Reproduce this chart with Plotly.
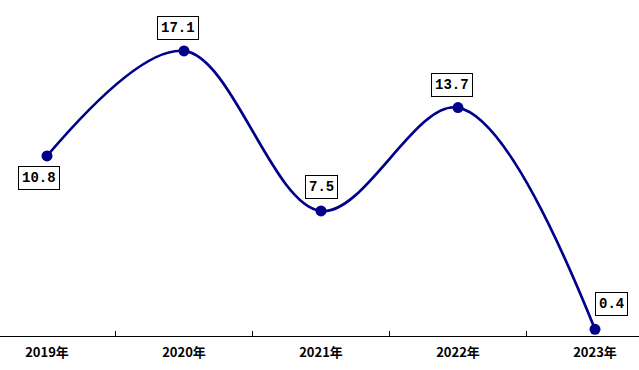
import plotly.graph_objects as go

years = ["2019年", "2020年", "2021年", "2022年", "2023年"]
values = [10.8, 17.1, 7.5, 13.7, 0.4]
label_text = ["10.8", "17.1", "7.5", "13.7", "0.4"]
label_dx = [-8, -6, 0, -6, 16]
label_dy = [-22, 23, 24, 23, 25]

fig = go.Figure()
fig.add_trace(go.Scatter(
    x=years, y=values, mode="lines+markers",
    line=dict(color="#00008B", width=2.7, shape="spline", smoothing=1.0),
    marker=dict(color="#00008B", size=11),
    hoverinfo="skip",
))

for x, y, t, dx, dy in zip(years, values, label_text, label_dx, label_dy):
    fig.add_annotation(
        x=x, y=y, xref="x", yref="y", text=t, showarrow=False,
        xshift=dx, yshift=dy,
        font=dict(family="Liberation Mono, DejaVu Sans Mono, monospace", size=14,
                  color="black", weight="bold"),
        bordercolor="black", borderwidth=1, borderpad=3, bgcolor="white",
    )

fig.update_layout(
    width=639, height=370,
    margin=dict(l=0, r=0, t=0, b=34),
    paper_bgcolor="white", plot_bgcolor="white",
    showlegend=False,
    xaxis=dict(
        type="category", range=[-47/137, 4 + 44/137], automargin=False,
        showline=True, linecolor="black", linewidth=1,
        ticks="inside", tickson="boundaries", ticklen=5, tickcolor="black",
        showgrid=False, zeroline=False, ticklabelstandoff=4,
        tickfont=dict(family="Noto Sans CJK SC, sans-serif", size=13, color="black",
                      weight="bold"),
    ),
    yaxis=dict(
        range=[0, 336/16.67], visible=False, showgrid=False, zeroline=False,
        automargin=False,
    ),
)

fig.write_html("out.html", config={"displayModeBar": False},
               post_script="document.body.style.margin='0';")
